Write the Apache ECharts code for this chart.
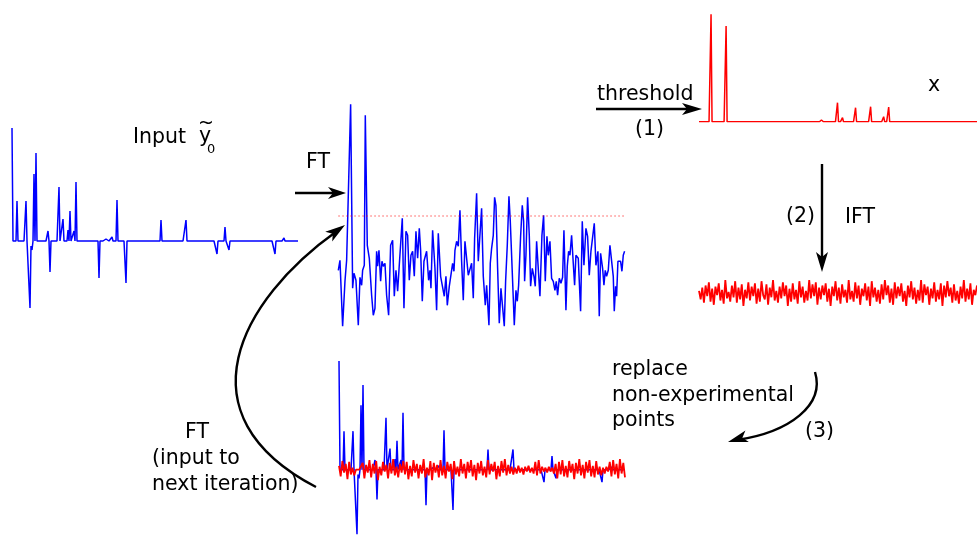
<!DOCTYPE html>
<html>
<head>
<meta charset="utf-8">
<script src="https://cdn.jsdelivr.net/npm/echarts@6/dist/echarts.min.js"></script>
<style>
  html, body { margin: 0; padding: 0; background: #fff; }
  #chart { width: 977px; height: 537px; }
</style>
</head>
<body>
<div id="chart"></div>
<script>
// ---- Input signal y0 (sparse: sample index -> amplitude) ----
const inputLen = 287;
const inputIdx = [0, 5, 14, 18, 19, 20, 22, 24, 36, 38, 47, 51, 56, 58, 62, 64, 69, 87, 94, 100, 105, 114, 119, 149, 174, 205, 208, 213, 217, 263, 272];
const inputVal = [113, 40, 40, -67, -5, -9, 67, 88, 10, -31, 54, 22, 11, 30, 10, 59, 1, -37, 2, 4, 41, -42, 1, 21, 21, -13, -2, 14, -9, -13, 3];

// ---- Spectrum after FT (frequency bin, magnitude) ----
const ftBin = [25, 30, 38, 45, 50, 55, 62, 68, 72, 78, 85, 90, 95, 98, 103, 106, 112, 118, 125, 130, 135, 140, 143, 147, 152, 156, 160, 165, 170, 176, 182, 188, 193, 198, 203, 207, 212, 217, 222, 228, 233, 238, 243, 248, 253, 258, 263, 268, 272, 277, 282, 286, 290, 296, 300, 303, 308, 315, 320, 325, 332, 338, 343, 348, 352, 358, 363, 368, 372, 375, 380, 385, 390, 395, 400, 405, 410, 415, 420, 425, 430, 434, 440, 445, 450, 455, 460, 466, 470, 477, 481, 485, 490, 494, 498, 503, 508, 513, 518, 523, 527, 532, 537, 541, 545, 550, 553, 558, 562, 566, 572, 577, 581, 584, 588, 593, 598, 602, 607, 612, 616, 620, 623, 630, 636, 641, 646, 651, 655, 660, 665, 670, 675, 679, 683, 688, 693, 698, 702, 708, 712, 716, 720, 725, 730, 734, 738, 745, 752, 757, 762, 768, 773, 778, 783, 788, 793, 798, 804, 808, 812, 818, 822, 826, 830, 835, 840, 845, 850, 853, 857, 860, 864, 868, 872, 876, 880, 884];
const ftAmp = [58, 68, 2, 47, 68, 70, 224, 40, 55, 48, 3, 51, 43, 58, 63, 213, 83, 70, 33, 13, 20, 77, 62, 78, 47, 67, 62, 65, 33, 13, 83, 88, 32, 58, 37, 58, 57, 110, 20, 97, 93, 48, 73, 77, 52, 97, 70, 100, 78, 27, 67, 65, 77, 48, 58, 40, 98, 60, 18, 95, 52, 50, 32, 52, 23, 42, 42, 65, 57, 78, 87, 82, 118, 67, 28, 87, 88, 53, 53, 65, 30, 90, 135, 67, 67, 120, 52, 23, 43, 3, 65, 80, 93, 131, 123, 60, 5, 40, 38, 2, 47, 83, 132, 107, 73, 30, 3, 38, 27, 43, 92, 123, 107, 47, 73, 131, 93, 42, 60, 52, 42, 87, 88, 32, 93, 113, 47, 92, 73, 87, 50, 47, 38, 47, 33, 50, 45, 51, 98, 18, 62, 77, 73, 93, 65, 43, 73, 70, 17, 107, 63, 100, 92, 53, 77, 78, 105, 63, 77, 12, 75, 60, 43, 58, 52, 58, 83, 82, 52, 17, 42, 32, 67, 68, 67, 57, 73, 77];
const threshold = 113;

// ---- Thresholded spectrum x (sparse) ----
const thrLen = 278;
const thrIdx = [12, 27, 122, 138, 143, 156, 171, 184, 189];
const thrVal = [107.5, 95.7, 1.7, 19, 4, 14, 15, 5, 14.7];

// ---- Inverse FT of x ----
const iftNoise = [2, -6, 5, -9, 7, -3, 10, -8, 4, -11, 6, -2, 9, -7, 3, -10, 12, -5, 1, -8,
  7, -4, 11, -9, 5, -6, 8, -12, 3, -5, 10, -7, 6, -3, 9, -10, 4, -8, 11, -2,
  -6, 8, -11, 5, -4, 12, -7, 2, -9, 6, -5, 10, -3, 7, -12, 4, -8, 9, -6, 3,
  -10, 11, -4, 6, -9, 2, -7, 12, -5, 8, -3, 10, -11, 5, -6, 7, -2, 9, -8, 4,
  -12, 6, -3, 11, -7, 5, -10, 8, -4, 3, -9, 12, -6, 2, -8, 10, -5, 7, -11, 4,
  -3, 9, -7, 6, -12, 11, -4, 5, -8, 3, -10, 8, -6, 12, -2, 7, -9, 4, -11, 10,
  -5, 6, -3, 9, -8, 2, -12, 7, -4, 11, -6, 5, -10, 3, -7, 12, -9, 8, -2, 6,
  -11, 4, -5, 10, -8, 3, -6, 9, -12, 7, -4, 11, -3, 5, -9, 8, -7, 2, -10, 6,
  -5, 12, -8, 4, -6, 9, -11, 3, -2, 7];

// ---- Replaced (non-experimental) points, next iteration input ----
const fillNoise = [4, -7, 9, -3, 6, -10, 8, -5, 2, -6, 0, 0, 0, 0, 7, -9, 5, -3, 10, -8,
  6, -4, 9, -11, 3, -6, 8, -2, 5, -9, 7, -4, 11, -6, 3, -8, 6, -3, 9, -5,
  8, -10, 4, -7, 10, -3, 6, -9, 5, -4, 11, -8, 2, -6, 9, -11, 7, -3, 5, -8,
  10, -6, 4, -9, 8, -2, 6, -10, 9, -5, 3, -7, 11, -4, 6, -9, 8, -3, 10, -7,
  5, -11, 7, -4, 9, -6, 3, -8, 10, -5, 6, -2, 8, -10, 4, -7, 9, -3, 11, -6,
  5, -4, 3, -5, 2, -4, 4, -3, 2, -5, 3, -2, 4, -3, 2, -4, 8, -6, 10, -4,
  3, -2, 2, -3, 3, -2, 2, -4, 6, -9, 8, -5, 10, -7, 4, -8, 9, -3, 6, -10,
  7, -4, 11, -6, 5, -9, 8, -3, 10, -7, 4, -8, 9, -5, 3, -6, 2, -4, 3, -2,
  8, -7, 10, -5, 6, -9, 11, -4, 7, -8];

function sparseToDense(len, idx, val) {
  const out = new Array(len).fill(0);
  idx.forEach((k, i) => { out[k] = val[i]; });
  return out;
}

const inputData = sparseToDense(inputLen, inputIdx, inputVal);
const thrData = sparseToDense(thrLen, thrIdx, thrVal);
const ftData = ftBin.map((b, i) => [b, ftAmp[i]]);
const seq = n => Array.from({ length: n }, (_, i) => i);

const BLUE = '#0000ff';
const RED = '#ff0000';
const FONT = '"DejaVu Sans", sans-serif';

const hiddenAxis = {
  show: false,
  axisLine: { show: false }, axisTick: { show: false },
  axisLabel: { show: false }, splitLine: { show: false }
};

// Arrowhead polygon with a notched back, pointing along `angle` (radians) to the tip
function arrowHead(tx, ty, angle, len, half, notch) {
  const c = Math.cos(angle), s = Math.sin(angle);
  const pt = (a, b) => [tx - a * c + b * s, ty - a * s - b * c];
  return {
    type: 'polygon', z: 100,
    shape: { points: [pt(0, 0), pt(len, half), pt(len - notch, 0), pt(len, -half)] },
    style: { fill: '#000' }
  };
}
function line(x1, y1, x2, y2) {
  return { type: 'line', z: 100, shape: { x1, y1, x2, y2 }, style: { stroke: '#000', lineWidth: 2.4 } };
}
function label(text, x, y, size) {
  return {
    type: 'text', z: 100,
    style: { text, x, y, fill: '#000', font: `${size || 20.5}px ${FONT}`, textVerticalAlign: 'middle' }
  };
}

const chart = echarts.init(document.getElementById('chart'), null, { renderer: 'canvas' });

chart.setOption({
  animation: false,
  backgroundColor: '#ffffff',
  grid: [
    { left: 12, width: 286, top: 126, height: 185 },      // input
    { left: 338.3, width: 286.3, top: 88.3, height: 240 }, // FT
    { left: 699, width: 278, top: 11.7, height: 110 },     // thresholded
    { left: 699, width: 278, top: 278, height: 30 },       // IFT
    { left: 339, width: 286, top: 359, height: 185 }       // next iteration
  ],
  xAxis: [
    Object.assign({ type: 'category', gridIndex: 0, data: seq(inputLen), boundaryGap: false }, hiddenAxis),
    Object.assign({ type: 'value', gridIndex: 1, min: 25, max: 884 }, hiddenAxis),
    Object.assign({ type: 'category', gridIndex: 2, data: seq(thrLen), boundaryGap: false }, hiddenAxis),
    Object.assign({ type: 'category', gridIndex: 3, data: seq(iftNoise.length), boundaryGap: false }, hiddenAxis),
    Object.assign({ type: 'category', gridIndex: 4, data: seq(inputLen), boundaryGap: false }, hiddenAxis),
    Object.assign({ type: 'category', gridIndex: 4, data: seq(fillNoise.length), boundaryGap: false }, hiddenAxis)
  ],
  yAxis: [
    Object.assign({ type: 'value', gridIndex: 0, min: -70, max: 115 }, hiddenAxis),
    Object.assign({ type: 'value', gridIndex: 1, min: 0, max: 240 }, hiddenAxis),
    Object.assign({ type: 'value', gridIndex: 2, min: 0, max: 110 }, hiddenAxis),
    Object.assign({ type: 'value', gridIndex: 3, min: -14, max: 14 }, hiddenAxis),
    Object.assign({ type: 'value', gridIndex: 4, min: -70, max: 115 }, hiddenAxis)
  ],
  series: [
    {
      type: 'line', xAxisIndex: 0, yAxisIndex: 0, data: inputData, symbol: 'none',
      lineStyle: { color: BLUE, width: 1.5 }
    },
    {
      type: 'line', xAxisIndex: 1, yAxisIndex: 1, data: ftData, symbol: 'none',
      lineStyle: { color: BLUE, width: 1.5 },
      markLine: {
        silent: true, symbol: 'none', label: { show: false },
        lineStyle: { color: RED, type: [1.5, 2.5], width: 1.6, opacity: 0.45 },
        data: [{ yAxis: threshold }]
      }
    },
    {
      type: 'line', xAxisIndex: 2, yAxisIndex: 2, data: thrData, symbol: 'none',
      lineStyle: { color: RED, width: 1.5 }
    },
    {
      type: 'line', xAxisIndex: 3, yAxisIndex: 3, data: iftNoise, symbol: 'none',
      lineStyle: { color: RED, width: 1.8 }
    },
    {
      type: 'line', xAxisIndex: 4, yAxisIndex: 4, data: inputData, symbol: 'none',
      lineStyle: { color: BLUE, width: 1.5 }
    },
    {
      type: 'line', xAxisIndex: 5, yAxisIndex: 4, data: fillNoise, symbol: 'none',
      lineStyle: { color: RED, width: 1.8 }
    }
  ],
  graphic: [
    // Input label with tilde-y subscript 0
    label('Input', 133, 138),
    label('y', 199, 137),
    label('~', 198, 124, 19),
    label('0', 207, 150, 13),
    // FT arrow
    label('FT', 306, 163),
    line(295, 193, 336, 193),
    arrowHead(346, 193, 0, 18, 6, 5),
    // Threshold arrow
    label('threshold', 597, 95),
    line(596, 109, 692, 109),
    arrowHead(702, 109, 0, 20, 6, 5),
    label('(1)', 635, 130),
    label('x', 928, 86),
    // IFT arrow
    line(822, 164, 822, 262),
    arrowHead(822, 272, Math.PI / 2, 20, 6, 5),
    label('(2)', 786, 217),
    label('IFT', 845, 218),
    // Replace step
    label('replace', 612, 370),
    label('non-experimental', 612, 396),
    label('points', 612, 421),
    {
      type: 'bezierCurve', z: 100,
      shape: { x1: 815, y1: 372, cpx1: 825, cpy1: 405, cpx2: 790, cpy2: 432, x2: 737, y2: 440 },
      style: { stroke: '#000', lineWidth: 2.4, fill: null }
    },
    arrowHead(728, 442, Math.atan2(6, -20), 20, 6, 5),
    label('(3)', 805, 432),
    // Iteration loop arrow
    {
      type: 'bezierCurve', z: 100,
      shape: { x1: 316, y1: 487, cpx1: 178, cpy1: 415, cpx2: 240, cpy2: 300, x2: 337, y2: 231 },
      style: { stroke: '#000', lineWidth: 2.4, fill: null }
    },
    arrowHead(345, 225, Math.atan2(-72, 101), 20, 6, 5),
    label('FT', 185, 433),
    label('(input to', 152, 459),
    label('next iteration)', 152, 485)
  ]
});
</script>
</body>
</html>
